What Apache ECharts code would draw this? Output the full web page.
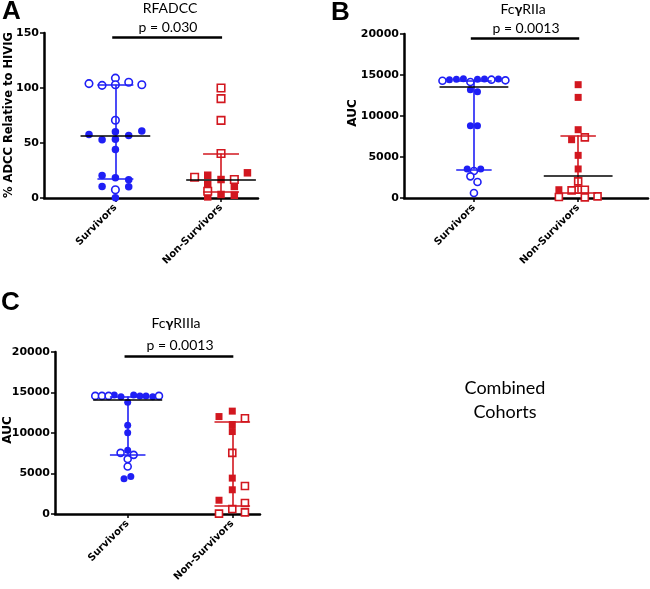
<!DOCTYPE html>
<html>
<head>
<meta charset="utf-8">
<script src="https://cdn.jsdelivr.net/npm/echarts@6/dist/echarts.min.js"></script>
<style>
  html, body { margin: 0; padding: 0; background: #fff; }
  #main { width: 650px; height: 589px; }
</style>
</head>
<body>
<div id="main"></div>
<script>
const groups = ['Survivors', 'Non-Survivors'];

// each point: [horizontal spread inside its group, value]
// A: RFADCC (% ADCC relative to HIVIG)
const aSurvFilled = [[-0.25, 57.7], [-0.126, 53], [0, 60.2], [0, 53.5], [0.126, 56.8], [0.25, 60.8], [0, 44],
  [-0.126, 20.4], [0, 18.3], [0.126, 16.5], [-0.126, 10.5], [0.126, 10.2], [0, 0.3]];
const aSurvOpen = [[-0.25, 104], [-0.126, 102.4], [0, 109], [0, 103], [0.126, 105.2], [0.25, 103], [0, 70.7], [0, 7.5]];
const aNonFilled = [[-0.126, 20.7], [-0.126, 12.3], [-0.126, 1], [0, 16.8], [0, 3.2], [0.126, 10.5], [0.126, 2.5], [0.25, 22.9]];
const aNonOpen = [[0, 100], [0, 90.3], [0, 70.6], [0, 40.4], [-0.25, 18.9], [0.126, 16.8], [-0.126, 6.2]];
// [q1, median, q3] for survivors / non-survivors
const aStats = [[17.7, 56.7, 103], [5.6, 16.8, 40.4]];
const aSig = 146.4;

// B: FcγRIIa AUC
const bSurvFilled = [[-0.235, 14430], [-0.168, 14470], [-0.101, 14550], [0.034, 14470], [0.101, 14510], [0.235, 14510],
  [-0.034, 13200], [0.034, 12950], [-0.034, 8820], [0.034, 8820], [-0.065, 3550], [0.065, 3550]];
const bSurvOpen = [[-0.302, 14300], [-0.034, 14150], [0.168, 14430], [0.302, 14350], [0, 3300], [-0.034, 2640], [0.034, 1950], [0, 610]];
const bNonFilled = [[0, 13820], [0, 12270], [0, 8330], [-0.063, 7110], [0, 5200], [0, 3540], [-0.185, 1010]];
const bNonOpen = [[0.064, 7390], [0, 2030], [0, 1010], [-0.185, 120], [-0.063, 930], [0.064, 1010], [0.064, 80], [0.186, 200]];
const bStats = [[3500, 13600, 14300], [700, 2720, 7640]];
const bSig = 19430;

// C: FcγRIIIa AUC, combined cohorts
const cSurvFilled = [[-0.128, 14700], [-0.064, 14490], [0.057, 14700], [0.117, 14580], [0.175, 14580], [0.239, 14490],
  [0, 13800], [0, 10950], [0, 10020], [0, 7880], [-0.035, 4350], [0.03, 4620]];
const cSurvOpen = [[-0.31, 14580], [-0.246, 14580], [-0.182, 14580], [0.299, 14580], [-0.068, 7550], [0.057, 7300], [0, 6780], [0, 5870]];
const cNonFilled = [[-0.127, 12030], [0, 12700], [0, 11050], [0, 10180], [0, 4430], [0, 2990], [-0.127, 1700]];
const cNonOpen = [[0.121, 11830], [0, 7550], [0.121, 3450], [0.121, 1350], [0, 610], [-0.127, 50], [0.121, 200]];
const cStats = [[7300, 14150, 14500], [1060, 3980, 11330]];
const cSig = 19500;

const BLUE = '#1f1ff5';
const RED = '#d2171f';
const TICK_FONT = 'DejaVu Sans';

const panels = [
  { grid: { left: 44, top: 33, width: 214, height: 165 }, xMin: 0.324, xMax: 2.35, yMax: 150, yStep: 50,
    sf: aSurvFilled, so: aSurvOpen, nf: aNonFilled, no: aNonOpen, stats: aStats, sig: aSig, size: 7.5 },
  { grid: { left: 404, top: 34, width: 244, height: 164 }, xMin: 0.329, xMax: 2.67, yMax: 20000, yStep: 5000,
    sf: bSurvFilled, so: bSurvOpen, nf: bNonFilled, no: bNonOpen, stats: bStats, sig: bSig, size: 7 },
  { grid: { left: 55, top: 352, width: 205, height: 162 }, xMin: 0.305, xMax: 2.265, yMax: 20000, yStep: 5000,
    sf: cSurvFilled, so: cSurvOpen, nf: cNonFilled, no: cNonOpen, stats: cStats, sig: cSig, size: 7 }
];

function place(arr, cat) {
  return arr.map(p => [cat + p[0], p[1]]);
}

function seg(x1, y1, x2, y2, color) {
  return [{ coord: [x1, y1], lineStyle: { color: color } }, { coord: [x2, y2] }];
}

const grids = [], xAxes = [], yAxes = [], series = [];

panels.forEach((p, i) => {
  grids.push(p.grid);
  xAxes.push({
    type: 'value', gridIndex: i, min: p.xMin, max: p.xMax,
    splitLine: { show: false },
    axisLine: { onZero: false, lineStyle: { color: '#000', width: 2.5 } },
    axisTick: { customValues: [1, 2], length: 4, lineStyle: { color: '#000', width: 1.5 } },
    axisLabel: {
      customValues: [1, 2], rotate: 45, margin: 8,
      formatter: v => groups[Math.round(v) - 1],
      color: '#000', fontFamily: TICK_FONT, fontWeight: 'bold', fontSize: 10
    }
  });
  yAxes.push({
    type: 'value', gridIndex: i, min: 0, max: p.yMax, interval: p.yStep,
    splitLine: { show: false },
    axisLine: { show: true, onZero: false, lineStyle: { color: '#000', width: 2.5 } },
    axisTick: { show: true, length: 4, lineStyle: { color: '#000', width: 1.5 } },
    axisLabel: {
      margin: 5, formatter: v => String(v),
      color: '#000', fontFamily: TICK_FONT, fontWeight: 'bold', fontSize: 11
    }
  });

  const [s, n] = p.stats;
  const w = 0.33, h = 0.17;
  series.push({
    type: 'scatter', xAxisIndex: i, yAxisIndex: i, data: [], z: 1, silent: true,
    markLine: {
      silent: true, animation: false, symbol: ['none', 'none'], label: { show: false },
      lineStyle: { type: 'solid', width: 1.6 },
      data: [
        seg(1, s[0], 1, s[2], BLUE),
        seg(1 - h, s[0], 1 + h, s[0], BLUE),
        seg(1 - h, s[2], 1 + h, s[2], BLUE),
        seg(2, n[0], 2, n[2], RED),
        seg(2 - h, n[0], 2 + h, n[0], RED),
        seg(2 - h, n[2], 2 + h, n[2], RED),
        seg(1 - w, s[1], 1 + w, s[1], '#000'),
        seg(2 - w, n[1], 2 + w, n[1], '#000'),
        [{ coord: [0.97, p.sig], lineStyle: { color: '#000', width: 2.5 } }, { coord: [2.01, p.sig] }]
      ]
    }
  });

  const common = { type: 'scatter', xAxisIndex: i, yAxisIndex: i, symbolSize: p.size, z: 3, animation: false };
  series.push(Object.assign({}, common, {
    name: 'surv-filled', symbol: 'circle', data: place(p.sf, 1), itemStyle: { color: BLUE, opacity: 1 }
  }));
  series.push(Object.assign({}, common, {
    name: 'surv-open', symbol: 'circle', data: place(p.so, 1),
    itemStyle: { color: '#fff', borderColor: BLUE, borderWidth: 1.6, opacity: 1 }
  }));
  series.push(Object.assign({}, common, {
    name: 'non-filled', symbol: 'rect', data: place(p.nf, 2), itemStyle: { color: RED, opacity: 1 }
  }));
  series.push(Object.assign({}, common, {
    name: 'non-open', symbol: 'rect', data: place(p.no, 2),
    itemStyle: { color: '#fff', borderColor: RED, borderWidth: 1.6, opacity: 1 }
  }));
});

function txt(text, x, y, font, extra) {
  return Object.assign({
    type: 'text', x: x, y: y, silent: true,
    style: { text: text, font: font, fill: '#000', textAlign: 'center', textVerticalAlign: 'middle' }
  }, extra || {});
}

const titleFont = '14px Lato';
const letterFont = 'bold 26px "Liberation Sans"';
const gammaRich = { g: { fontWeight: 'bold', fontSize: 14, fontFamily: 'Lato' } };

function gammaTitle(text, x, y) {
  return {
    type: 'text', x: x, y: y, silent: true,
    style: { text: text, font: titleFont, fill: '#000', textAlign: 'center', textVerticalAlign: 'middle', rich: gammaRich }
  };
}

const graphics = [
  txt('A', 11.5, 12, letterFont),
  txt('B', 340.5, 12.5, letterFont),
  txt('C', 10.5, 303, letterFont),
  txt('RFADCC', 170, 8, titleFont),
  txt('p = 0.030', 168, 27, titleFont),
  gammaTitle('Fc{g|γ}RIIa', 523, 9),
  txt('p = 0.0013', 526, 28, titleFont),
  gammaTitle('Fc{g|γ}RIIIa', 176, 323),
  txt('p = 0.0013', 180, 345, titleFont),
  txt('% ADCC Relative to HIVIG', 9.5, 115, 'bold 11.5px "DejaVu Sans"', { rotation: Math.PI / 2 }),
  txt('AUC', 353, 113, 'bold 12px "DejaVu Sans"', { rotation: Math.PI / 2 }),
  txt('AUC', 7.5, 430, 'bold 12px "DejaVu Sans"', { rotation: Math.PI / 2 }),
  txt('Combined', 505, 388, '18px Lato'),
  txt('Cohorts', 505, 412, '18px Lato')
];

const chart = echarts.init(document.getElementById('main'), null, { renderer: 'canvas' });
chart.setOption({
  animation: false,
  backgroundColor: '#fff',
  grid: grids,
  xAxis: xAxes,
  yAxis: yAxes,
  series: series,
  graphic: graphics
});
</script>
</body>
</html>
